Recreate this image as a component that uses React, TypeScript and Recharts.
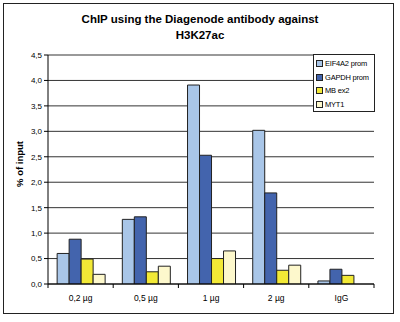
import React from "react";
import {
  BarChart,
  Bar,
  CartesianGrid,
  XAxis,
  YAxis,
  ReferenceLine,
} from "recharts";

const categories = ["0,2 µg", "0,5 µg", "1 µg", "2 µg", "IgG"];
const seriesNames = ["EIF4A2 prom", "GAPDH prom", "MB ex2", "MYT1"];
const eif4a2 = [0.6, 1.27, 3.91, 3.02, 0.06];
const gapdh = [0.88, 1.32, 2.53, 1.79, 0.29];
const mbEx2 = [0.49, 0.24, 0.5, 0.27, 0.17];
const myt1 = [0.19, 0.35, 0.65, 0.37, 0.0];
const yTicks = [0, 0.5, 1, 1.5, 2, 2.5, 3, 3.5, 4, 4.5];

const colors = ["#a9c6e8", "#4364ad", "#f2e936", "#fdf8cc"];
const keys = ["eif4a2", "gapdh", "mb", "myt1"];

const data = categories.map((name, i) => ({
  name,
  eif4a2: eif4a2[i],
  gapdh: gapdh[i],
  mb: mbEx2[i],
  myt1: myt1[i],
}));

const FONT = "'Liberation Sans', Arial, sans-serif";
const W = 400;
const H = 322;
const margin = { top: 55, right: 26, bottom: 8, left: 8 };
const Y_AXIS_W = 40;
const X_AXIS_H = 30;
const band = (W - margin.left - margin.right - Y_AXIS_W) / categories.length;

// category labels + tick marks sitting between the groups
const XTick = (props: any) => {
  const { x, y, payload, index } = props;
  return (
    <g>
      <line x1={x - band / 2} x2={x - band / 2} y1={y} y2={y + 4} stroke="#000" />
      {index === categories.length - 1 && (
        <line x1={x + band / 2} x2={x + band / 2} y1={y} y2={y + 4} stroke="#000" />
      )}
      <text
        x={x}
        y={y + 17}
        textAnchor="middle"
        fontSize={8.5}
        fontFamily={FONT}
        fill="#000"
      >
        {payload.value}
      </text>
    </g>
  );
};

export default function App() {
  return (
    <div
      style={{
        position: "absolute",
        left: 0,
        top: 0,
        width: W,
        height: H,
        background: "#fff",
        fontFamily: FONT,
      }}
    >
      {/* outer frame */}
      <div
        style={{
          position: "absolute",
          left: 3,
          top: 3,
          width: 389,
          height: 309,
          border: "1px solid #222",
        }}
      />

      {/* title */}
      <div
        style={{
          position: "absolute",
          top: 11,
          left: 0,
          width: W,
          textAlign: "center",
          fontSize: 11.5,
          fontWeight: 700,
          lineHeight: "16px",
          color: "#000",
        }}
      >
        ChIP using the Diagenode antibody against
        <br />
        H3K27ac
      </div>

      <div style={{ position: "absolute", left: 0, top: 0 }}>
        <BarChart
          width={W}
          height={H}
          data={data}
          margin={margin}
          barCategoryGap="14%"
          barGap={0}
        >
          <CartesianGrid vertical={false} stroke="#333" />
          <ReferenceLine y={4.5} stroke="#999" />
          <XAxis
            dataKey="name"
            height={X_AXIS_H}
            tickSize={0}
            tickMargin={0}
            tickLine={false}
            axisLine={{ stroke: "#000" }}
            tick={<XTick />}
            interval={0}
          />
          <YAxis
            domain={[0, 4.5]}
            ticks={yTicks}
            width={Y_AXIS_W}
            tickSize={4}
            tickMargin={2}
            axisLine={{ stroke: "#000" }}
            tickLine={{ stroke: "#000" }}
            tickFormatter={(v: number) => v.toFixed(1).replace(".", ",")}
            tick={{ fontSize: 8, fill: "#000", fontFamily: FONT }}
            allowDataOverflow
          />
          <YAxis
            yAxisId="right"
            orientation="right"
            width={0}
            tick={false}
            tickLine={false}
            axisLine={{ stroke: "#999" }}
          />
          {keys.map((k, i) => (
            <Bar
              key={k}
              dataKey={k}
              name={seriesNames[i]}
              fill={colors[i]}
              stroke="#222"
              strokeWidth={1}
              isAnimationActive={false}
            />
          ))}
        </BarChart>
      </div>

      {/* y axis label */}
      <div
        style={{
          position: "absolute",
          left: 19,
          top: 164,
          transform: "translate(-50%, -50%) rotate(-90deg)",
          fontSize: 9.5,
          fontWeight: 700,
          whiteSpace: "nowrap",
          color: "#000",
        }}
      >
        % of input
      </div>

      {/* legend */}
      <div
        style={{
          position: "absolute",
          left: 313,
          top: 54,
          width: 62,
          height: 58,
          border: "1px solid #222",
          background: "#fff",
          boxSizing: "border-box",
          padding: "2px 0 0 2px",
        }}
      >
        {seriesNames.map((n, i) => (
          <div
            key={n}
            style={{
              display: "flex",
              alignItems: "center",
              height: 13.5,
              fontSize: 7.5,
              letterSpacing: -0.2,
              color: "#000",
              whiteSpace: "nowrap",
            }}
          >
            <span
              style={{
                display: "inline-block",
                width: 5,
                height: 5,
                background: colors[i],
                border: "1px solid #222",
                marginRight: 2,
                flexShrink: 0,
              }}
            />
            {n}
          </div>
        ))}
      </div>
    </div>
  );
}
